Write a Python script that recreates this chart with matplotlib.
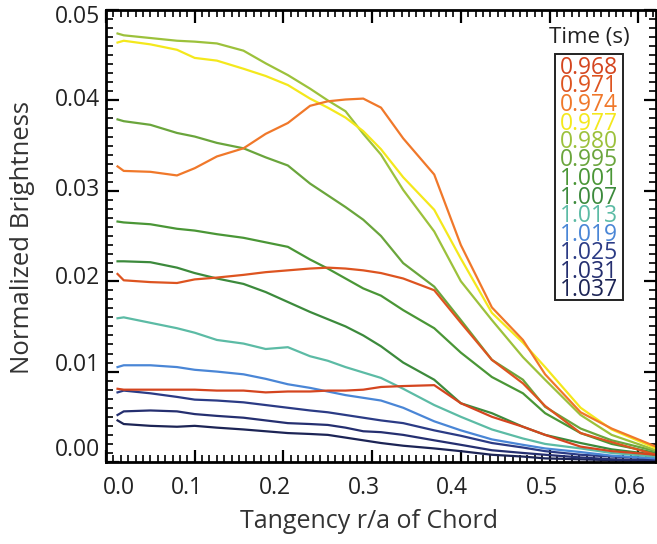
import numpy as np
import matplotlib
matplotlib.use("Agg")
import matplotlib.pyplot as plt
import matplotlib.transforms as mtransforms
from matplotlib.ticker import AutoMinorLocator
from matplotlib.patches import Rectangle

plt.rcParams['font.family'] = ['Open Sans', 'DejaVu Sans']

# r/a of chord tangency (common grid)
r = [0.013, 0.02, 0.05, 0.08, 0.10, 0.125, 0.155, 0.18, 0.205, 0.23, 0.25, 0.27,
     0.29, 0.31, 0.335, 0.37, 0.40, 0.435, 0.47, 0.495, 0.535, 0.57, 0.62]

times = ['0.968', '0.971', '0.974', '0.977', '0.980', '0.995', '1.001',
         '1.007', '1.013', '1.019', '1.025', '1.031', '1.037']

colors = ['#d4451f', '#dd5420', '#f0782a', '#f4e81c', '#9cc13b', '#6aa53c', '#4a9636',
          '#3c8a3c', '#5cbba5', '#4a86d6', '#2b3b85', '#252f70', '#1c2455']

b0968 = [0.0081, 0.0080, 0.0080, 0.0080, 0.0080, 0.0079, 0.0079, 0.0077, 0.0078, 0.0078, 0.0079, 0.0079,
         0.0080, 0.0083, 0.0084, 0.0085, 0.0065, 0.0050, 0.0039, 0.0030, 0.0017, 0.0012, 0.0008]
b0971 = [0.0208, 0.0201, 0.0199, 0.0198, 0.0202, 0.0204, 0.0207, 0.0210, 0.0212, 0.0214, 0.0215, 0.0214,
         0.0212, 0.0209, 0.0203, 0.0190, 0.0154, 0.0113, 0.0087, 0.0062, 0.0032, 0.0022, 0.0008]
b0974 = [0.0327, 0.0322, 0.0321, 0.0317, 0.0325, 0.0338, 0.0347, 0.0363, 0.0375, 0.0394, 0.0399, 0.0401,
         0.0402, 0.0392, 0.0358, 0.0318, 0.0240, 0.0171, 0.0135, 0.0097, 0.0055, 0.0037, 0.0017]
b0977 = [0.0464, 0.0466, 0.0462, 0.0456, 0.0447, 0.0444, 0.0435, 0.0427, 0.0417, 0.0402, 0.0392, 0.0381,
         0.0366, 0.0346, 0.0315, 0.0279, 0.0225, 0.0165, 0.0132, 0.0105, 0.0060, 0.0036, 0.0015]
b0980 = [0.0474, 0.0472, 0.0469, 0.0466, 0.0465, 0.0463, 0.0455, 0.0441, 0.0428, 0.0413, 0.0400, 0.0388,
         0.0363, 0.0340, 0.0301, 0.0255, 0.0200, 0.0157, 0.0116, 0.0091, 0.0052, 0.0030, 0.0013]
b0995 = [0.0379, 0.0377, 0.0373, 0.0364, 0.0360, 0.0353, 0.0347, 0.0337, 0.0328, 0.0308, 0.0295, 0.0282,
         0.0268, 0.0250, 0.0220, 0.0194, 0.0157, 0.0113, 0.0091, 0.0061, 0.0037, 0.0024, 0.0012]
b1001 = [0.0266, 0.0265, 0.0263, 0.0258, 0.0256, 0.0252, 0.0248, 0.0243, 0.0238, 0.0224, 0.0214, 0.0203,
         0.0192, 0.0184, 0.0168, 0.0148, 0.0121, 0.0094, 0.0076, 0.0054, 0.0032, 0.0020, 0.0010]
b1007 = [0.0222, 0.0222, 0.0221, 0.0215, 0.0209, 0.0203, 0.0197, 0.0188, 0.0177, 0.0166, 0.0158, 0.0150,
         0.0140, 0.0128, 0.0110, 0.0091, 0.0065, 0.0054, 0.0039, 0.0030, 0.0021, 0.0014, 0.0008]
b1013 = [0.0159, 0.0160, 0.0154, 0.0148, 0.0143, 0.0135, 0.0131, 0.0125, 0.0127, 0.0117, 0.0112, 0.0105,
         0.0099, 0.0093, 0.0081, 0.0063, 0.0050, 0.0036, 0.0026, 0.0020, 0.0015, 0.0010, 0.0006]
b1019 = [0.0105, 0.0107, 0.0107, 0.0105, 0.0102, 0.0100, 0.0097, 0.0092, 0.0086, 0.0082, 0.0078, 0.0074,
         0.0071, 0.0068, 0.0060, 0.0045, 0.0035, 0.0025, 0.0019, 0.0015, 0.0011, 0.0007, 0.0004]
b1025 = [0.0077, 0.0079, 0.0076, 0.0072, 0.0069, 0.0068, 0.0066, 0.0063, 0.0060, 0.0057, 0.0055, 0.0052,
         0.0049, 0.0046, 0.0043, 0.0035, 0.0029, 0.0021, 0.0016, 0.0012, 0.0008, 0.0006, 0.0004]
b1031 = [0.0052, 0.0056, 0.0057, 0.0056, 0.0053, 0.0051, 0.0049, 0.0046, 0.0043, 0.0042, 0.0041, 0.0038,
         0.0034, 0.0033, 0.0030, 0.0024, 0.0019, 0.0013, 0.0010, 0.0008, 0.0005, 0.0003, 0.0002]
b1037 = [0.0046, 0.0042, 0.0040, 0.0039, 0.0040, 0.0038, 0.0036, 0.0034, 0.0032, 0.0031, 0.0030, 0.0027,
         0.0024, 0.0021, 0.0018, 0.0015, 0.0012, 0.0008, 0.0006, 0.0004, 0.0003, 0.0002, 0.0001]

series = [b0968, b0971, b0974, b0977, b0980, b0995, b1001, b1007, b1013, b1019, b1025, b1031, b1037]

xticks = [0.0, 0.1, 0.2, 0.3, 0.4, 0.5, 0.6]
yticks = [0.00, 0.01, 0.02, 0.03, 0.04, 0.05]

W, H = 657, 544
fig = plt.figure(figsize=(W / 100, H / 100), dpi=100)
ax = fig.add_axes([106 / W, 1 - 462 / H, 550 / W, 452 / H])

# draw later series first so the early ones sit on top like the original
for c, b in zip(colors[::-1], series[::-1]):
    ax.plot(r, b, color=c, lw=1.6, solid_joinstyle='round')

ax.set_xlim(0, 0.62)
ax.set_ylim(0, 0.05)
ax.set_xticks(xticks)
ax.set_yticks(yticks)
ax.xaxis.set_minor_locator(AutoMinorLocator(12))
ax.yaxis.set_minor_locator(AutoMinorLocator(10))
ax.tick_params(which='both', direction='in', top=True, right=True,
               labelbottom=False, labelleft=False, width=1.6)
ax.tick_params(which='major', length=9)
ax.tick_params(which='minor', length=5, width=1.2)
for s in ax.spines.values():
    s.set_linewidth(2)

# tick labels (shifted like in the scanned figure)
xoff = [13, -8, -8, -8, -9, -8, -8]
for v, dx in zip(xticks, xoff):
    tr = mtransforms.offset_copy(ax.get_xaxis_transform(), fig=fig, x=dx, y=-14, units='dots')
    ax.text(v, 0, f'{v:.1f}', transform=tr, ha='center', va='top', fontsize=16.5, color='#222222')
yoff = [12, 7, 3, 1, 0, -7]
for v, dy in zip(yticks, yoff):
    tr = mtransforms.offset_copy(ax.get_yaxis_transform(), fig=fig, x=-6, y=dy, units='dots')
    ax.text(0, v, f'{v:.2f}', transform=tr, ha='right', va='center', fontsize=16.5, color='#222222')

fig.text(369 / W, 1 - 522 / H, 'Tangency r/a of Chord', ha='center', va='center',
         fontsize=18, color='#333333')
fig.text(23 / W, 1 - 238 / H, 'Normalized Brightness', ha='center', va='center',
         rotation=90, fontsize=18.5, color='#333333')

# legend: title above a box of coloured labels
fig.text(589 / W, 1 - 38 / H, 'Time (s)', ha='center', va='center', fontsize=16, color='#222222')
fig.patches.append(Rectangle((555 / W, 1 - 300 / H), 68 / W, 246 / H, transform=fig.transFigure,
                             fill=False, edgecolor='#222222', lw=1.4))
for i, (t, c) in enumerate(zip(times, colors)):
    fig.text(589 / W, 1 - (68 + 18.5 * i) / H, t, ha='center', va='center',
             fontsize=16.5, color=c)

fig.savefig('out.png', dpi=100)
